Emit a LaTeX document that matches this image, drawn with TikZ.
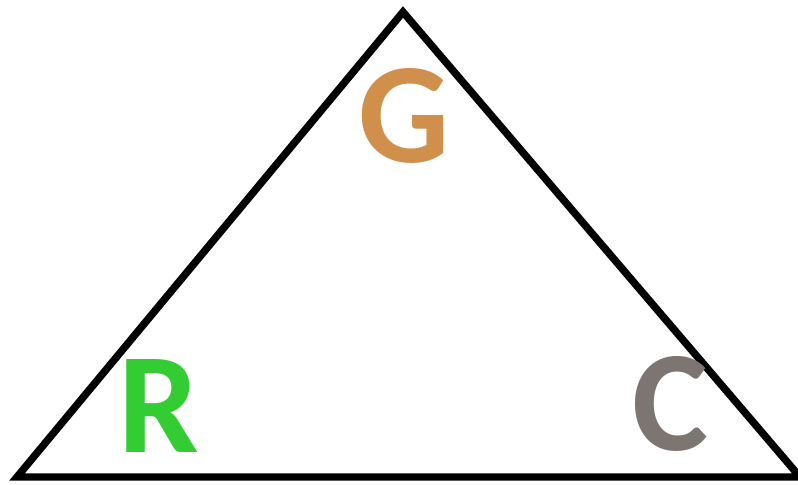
\documentclass[tikz,border=0pt]{standalone}
\usepackage{fontspec}
\setmainfont{Carlito}
\definecolor{gcol}{HTML}{D08F4B}
\definecolor{rcol}{HTML}{33CC33}
\definecolor{ccol}{HTML}{7D7572}
\begin{document}
\begin{tikzpicture}[x=0.025cm,y=-0.025cm,
    edge/.style={black,line width=5.3pt},
    lbl/.style={anchor=base,inner sep=0pt,font=\fontsize{102}{102}\selectfont\bfseries}]
  \useasboundingbox (0,0) rectangle (798,485);
  % corners of the triangle
  \coordinate (top)   at (403,12);
  \coordinate (left)  at (17,477);
  \coordinate (right) at (800,477);
  \draw[edge] (top) -- (right) -- (left) -- cycle;
  % letters at the corners
  \node[lbl,text=gcol] (g) at (404,163) {G};
  \node[lbl,text=rcol] (r) at (159,452) {R};
  \node[lbl,text=ccol] (c) at (670,451) {C};
\end{tikzpicture}
\end{document}
